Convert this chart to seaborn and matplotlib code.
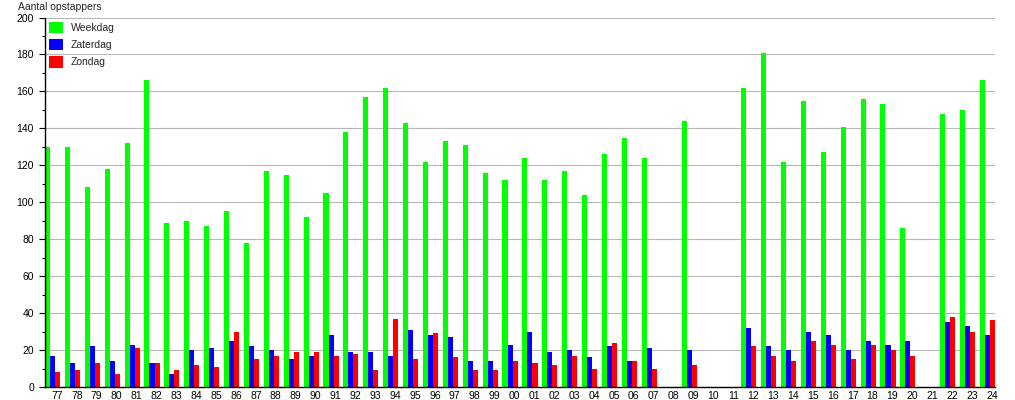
import matplotlib
matplotlib.use("Agg")
import matplotlib.pyplot as plt
import seaborn as sns
import pandas as pd
import numpy as np
from matplotlib.ticker import MultipleLocator

# jaren (twee cijfers) en aantallen per dagsoort
jaren = ['77', '78', '79', '80', '81', '82', '83', '84', '85', '86',
         '87', '88', '89', '90', '91', '92', '93', '94', '95', '96',
         '97', '98', '99', '00', '01', '02', '03', '04', '05', '06',
         '07', '08', '09', '10', '11', '12', '13', '14', '15', '16',
         '17', '18', '19', '20', '21', '22', '23', '24']
weekdag = [130, 130, 108, 118, 132, 166, 89, 90, 87, 95,
           78, 117, 115, 92, 105, 138, 157, 162, 143, 122,
           133, 131, 116, 112, 124, 112, 117, 104, 126, 135,
           124, 0, 144, 0, 0, 162, 181, 122, 155, 127,
           141, 156, 153, 86, 0, 148, 150, 166]
zaterdag = [17, 13, 22, 14, 23, 13, 7, 20, 21, 25,
            22, 20, 15, 17, 28, 19, 19, 17, 31, 28,
            27, 14, 14, 23, 30, 19, 20, 16, 22, 14,
            21, 0, 20, 0, 0, 32, 22, 20, 30, 28,
            20, 25, 23, 25, 0, 35, 33, 28]
zondag = [8, 9, 13, 7, 21, 13, 9, 12, 11, 30,
          15, 17, 19, 19, 17, 18, 9, 37, 15, 29,
          16, 9, 9, 14, 13, 12, 17, 10, 24, 14,
          10, 0, 12, 0, 0, 22, 17, 14, 25, 23,
          15, 23, 20, 17, 0, 38, 30, 36]

df = pd.DataFrame({'jaar': jaren, 'Weekdag': weekdag,
                   'Zaterdag': zaterdag, 'Zondag': zondag})
df = df.melt(id_vars='jaar', var_name='dag', value_name='aantal')

kleuren = {'Weekdag': '#00ff00', 'Zaterdag': '#0000ff', 'Zondag': '#ff0000'}

sns.set_style('white')
plt.rcParams['font.family'] = ['Liberation Sans', 'DejaVu Sans']

fig = plt.figure(figsize=(10.15, 4.0), dpi=100)
ax = fig.add_axes([45 / 1015, 13 / 400, 950 / 1015, 369.5 / 400])

w = 0.76
sns.barplot(data=df, x='jaar', y='aantal', hue='dag', order=jaren,
            palette=kleuren, width=w, gap=0, errorbar=None,
            saturation=1, linewidth=0, ax=ax)

ax.set_xlim(-w / 2, len(jaren) - 1 + w / 2)
ax.set_ylim(0, 200)
ax.yaxis.set_major_locator(MultipleLocator(20))
ax.yaxis.set_minor_locator(MultipleLocator(10))
ax.set_xticks(np.arange(len(jaren)) + 0.22, jaren)

ax.grid(axis='y', which='major', color='#b8b8b8', linewidth=0.8)
ax.set_axisbelow(True)
for s in ['top', 'right']:
    ax.spines[s].set_visible(False)
for s in ['left', 'bottom']:
    ax.spines[s].set_color('black')
    ax.spines[s].set_linewidth(1.0)
    ax.spines[s].set_zorder(5)

ax.tick_params(axis='y', which='major', left=True, length=4, width=0.8,
               pad=4, labelsize=7.5, colors='black')
ax.tick_params(axis='y', which='minor', left=True, length=2, width=0.8,
               colors='black')
ax.tick_params(axis='x', length=0, pad=3, labelsize=7.5, colors='black')
ax.set_xlabel('')
ax.set_ylabel('')

sns.move_legend(ax, 'upper left', bbox_to_anchor=(0, 1), title=None,
                frameon=False, fontsize=7.5, handlelength=1.3,
                handleheight=1.35, handletextpad=0.75, labelspacing=0.52,
                borderpad=0.35, borderaxespad=0.05)

fig.text(18 / 1015, 1 - 7 / 400, 'Aantal opstappers', fontsize=7.5,
         ha='left', va='center')

fig.savefig('out.png', dpi=100)
